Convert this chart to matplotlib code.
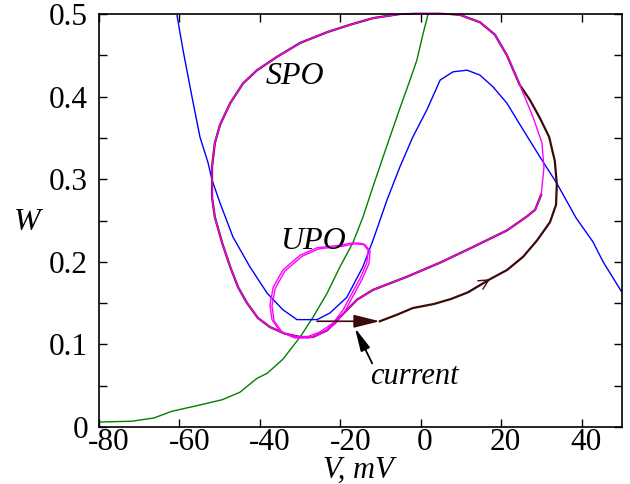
import matplotlib
matplotlib.use("Agg")
import matplotlib.pyplot as plt
import matplotlib.transforms as mtransforms

plt.rcParams['font.family'] = ['Liberation Serif', 'DejaVu Serif']
plt.rcParams['axes.unicode_minus'] = False

# nullclines
blue_v = [-60.6, -59.1, -56.9, -54.9, -52.9, -51.9, -49.9, -46.7, -42.5, -38.2, -34.3,
          -30.8, -25.8, -22.6, -18.4, -14.4, -11.9, -8.4, -5.2, -2.0, 1.5, 4.8, 8.0,
          11.5, 14.7, 17.9, 21.4, 25.4, 29.6, 33.8, 38.6, 42.8, 45.3, 50.0]
blue_w = [0.498, 0.456, 0.400, 0.351, 0.320, 0.299, 0.271, 0.230, 0.194, 0.162, 0.142,
          0.130, 0.130, 0.138, 0.157, 0.194, 0.226, 0.275, 0.315, 0.351, 0.384, 0.420, 0.430,
          0.432, 0.426, 0.412, 0.392, 0.360, 0.327, 0.295, 0.253, 0.224, 0.200, 0.163]

green_v = [-80.0, -71.8, -66.3, -61.9, -54.6, -49.4, -45.0, -40.7, -38.2, -34.3, -30.0,
           -26.8, -23.3, -20.1, -16.9, -14.4, -11.9, -8.4, -5.2, -2.7, -1.0, 0.5, 1.8]
green_w = [0.006, 0.007, 0.011, 0.019, 0.027, 0.033, 0.042, 0.059, 0.065, 0.082, 0.109,
           0.133, 0.162, 0.194, 0.223, 0.254, 0.291, 0.341, 0.386, 0.420, 0.444, 0.475, 0.500]

# stable periodic orbit (counter-clockwise from the top right)
spo_v = [24.6, 21.4, 18.4, 14.7, 9.7, 4.8, -1.0, -5.2, -11.9, -17.6, -23.3, -30.0, -35.8,
         -40.7, -44.2, -47.4, -49.9, -51.2, -51.9, -51.9, -51.2, -49.4, -47.4, -45.4, -43.2,
         -40.5, -37.5, -33.8, -30.0, -26.8, -23.3, -20.1, -15.9, -11.9, -3.4, 4.8, 13.0,
         21.4, 26.4, 28.4, 29.9, 30.6, 30.1, 27.9, 24.6]
spo_w = [0.414, 0.450, 0.475, 0.490, 0.499, 0.501, 0.501, 0.500, 0.495, 0.487, 0.478, 0.465,
         0.448, 0.432, 0.416, 0.392, 0.366, 0.344, 0.315, 0.278, 0.254, 0.223, 0.194, 0.169,
         0.150, 0.132, 0.121, 0.113, 0.109, 0.109, 0.117, 0.133, 0.154, 0.166, 0.182, 0.199,
         0.218, 0.238, 0.255, 0.263, 0.281, 0.314, 0.344, 0.375, 0.414]

# unstable periodic orbit
upo_v = [-20.1, -16.9, -14.4, -13.1, -13.4, -15.1, -17.1, -19.3, -21.8, -25.1, -28.3,
         -31.8, -35.0, -37.0, -37.5, -36.7, -34.3, -30.0, -25.8, -20.1]
upo_w = [0.220, 0.223, 0.222, 0.214, 0.199, 0.180, 0.162, 0.142, 0.126, 0.115, 0.109,
         0.109, 0.116, 0.130, 0.148, 0.169, 0.190, 0.208, 0.217, 0.220]

# trajectory after the current pulse, joins the SPO at the top right
kick_v = [-25.8, -10.2]
kick_w = [0.128, 0.128]
traj_v = [-10.2, -5.9, -2.0, 3.3, 7.5, 11.7, 17.2, 21.4, 25.4, 28.9, 32.1, 33.6, 33.8,
          33.3, 31.9, 29.6, 27.1]
traj_w = [0.128, 0.136, 0.144, 0.149, 0.155, 0.163, 0.179, 0.190, 0.206, 0.226, 0.248,
          0.269, 0.294, 0.322, 0.351, 0.374, 0.396]
n_on_spo = 41  # how far the trajectory follows the SPO

# "current" label and its pointer
current_text = (-1.7, 0.061)
current_tail = (-12.1, 0.077)
current_tip = (-16.4, 0.120)

brown = '#3d0a0a'

fig = plt.figure(figsize=(6.3, 4.84), dpi=100)
ax = fig.add_axes([99 / 630, 57 / 484, 523 / 630, 413 / 484])

ax.plot(green_v, green_w, color='#008000', lw=1.0)
ax.plot(blue_v, blue_w, color='#0000ff', lw=1.0)

ax.plot(traj_v + spo_v[:n_on_spo], traj_w + spo_w[:n_on_spo], color=brown, lw=1.6)
ax.plot(spo_v, spo_w, color='#ff00ff', lw=1.0, clip_on=False)

shift = mtransforms.offset_copy(ax.transData, fig=fig, x=2, y=-1, units='dots')
ax.plot(upo_v, upo_w, color='#ff00ff', lw=1.0)
ax.plot(upo_v, upo_w, color='#ff00ff', lw=1.0, transform=shift)

# current pulse arrow
ax.annotate('', xy=(kick_v[1], kick_w[1]), xytext=(kick_v[0], kick_w[0]),
            arrowprops=dict(arrowstyle='-|>,head_length=0.8,head_width=0.2',
                            color=brown, lw=1.2, mutation_scale=20, shrinkA=0, shrinkB=0))
# direction marker on trajectory
ax.annotate('', xy=(traj_v[6], traj_w[6]), xytext=(traj_v[5], traj_w[5]),
            arrowprops=dict(arrowstyle='->,head_length=0.5,head_width=0.25',
                            color=brown, lw=1.0, mutation_scale=14, shrinkA=0, shrinkB=0))

ax.text(*current_text, 'current', fontsize=22, style='italic', ha='center', va='center')
ax.annotate('', xy=current_tip, xytext=current_tail,
            arrowprops=dict(arrowstyle='-|>,head_length=0.7,head_width=0.15',
                            color='black', lw=1.3, mutation_scale=20,
                            shrinkA=0, shrinkB=0))

ax.text(-31.3, 0.424, 'SPO', fontsize=23, style='italic', ha='center', va='center')
ax.text(-26.8, 0.224, 'UPO', fontsize=23, style='italic', ha='center', va='center')

ax.set_xlim(-80, 50)
ax.set_ylim(0, 0.5)
xticks = [-80, -60, -40, -20, 0, 20, 40]
ax.set_xticks(xticks)
ax.set_yticks([0, 0.1, 0.2, 0.3, 0.4, 0.5])
ax.set_yticklabels(['0', '0.1', '0.2', '0.3', '0.4', '0.5'])
ax.set_yticks([0.05, 0.15, 0.25, 0.35, 0.45], minor=True)
ax.tick_params(which='both', direction='in', top=True, right=True, length=6,
               width=1.0, labelsize=22.5)
ax.tick_params(axis='x', pad=1)
ax.tick_params(axis='y', pad=8)
for s in ax.spines.values():
    s.set_linewidth(1.2)

# gnuplot-like label placement: labels sit a bit right of their ticks
for val, lab in zip(xticks, ax.get_xticklabels()):
    dx = 10 if val < 0 else 4
    lab.set_transform(lab.get_transform() +
                      mtransforms.ScaledTranslation(dx / 100, 0, fig.dpi_scale_trans))

ax.set_xlabel('V, mV', fontsize=22, style='italic')
ax.xaxis.set_label_coords(0.495, -0.124)
ax.xaxis.label.set_va('baseline')
ax.set_ylabel('W', fontsize=23, style='italic', rotation=0)
ax.yaxis.set_label_coords(-0.138, 0.496)
ax.yaxis.label.set_va('center')
ax.yaxis.label.set_ha('center')

fig.savefig('out.png', dpi=100)
